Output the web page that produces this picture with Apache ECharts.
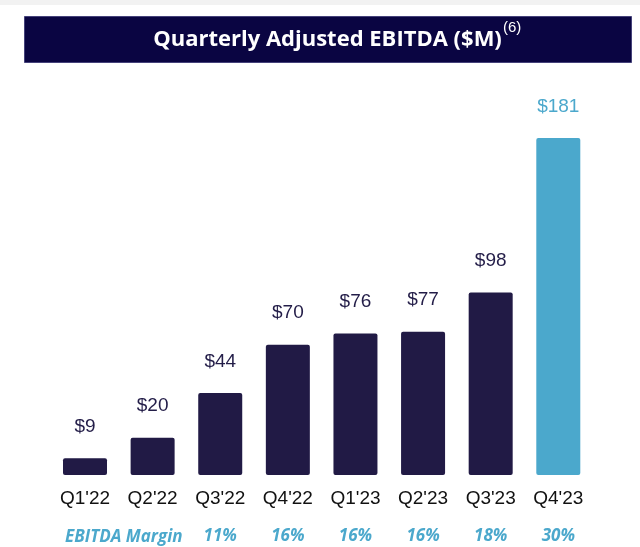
<!DOCTYPE html>
<html>
<head>
<meta charset="utf-8">
<script src="https://cdn.jsdelivr.net/npm/echarts@6/dist/echarts.min.js"></script>
<style>
html,body{margin:0;padding:0;background:#fff;}
#chart{width:640px;height:547px;}
</style>
</head>
<body>
<div id="chart"></div>
<script>
const categories = ["Q1'22","Q2'22","Q3'22","Q4'22","Q1'23","Q2'23","Q3'23","Q4'23"];
const ebitda = [9, 20, 44, 70, 76, 77, 98, 181];
const marginQuarters = ["Q3'22","Q4'22","Q1'23","Q2'23","Q3'23","Q4'23"];
const margins = ["11%","16%","16%","16%","18%","30%"];
const marginTitle = "EBITDA Margin";
const chartTitle = "Quarterly Adjusted EBITDA ($M)";
const titleNote = "(6)";

const DARK = '#211a45';
const LIGHT = '#4ba8cc';

const marginAxisData = categories.map(c => {
  const i = marginQuarters.indexOf(c);
  return i >= 0 ? margins[i] : '';
});

const chart = echarts.init(document.getElementById('chart'), null, {renderer:'canvas'});
chart.setOption({
  animation: false,
  grid: { left: 51.2, right: 47.9, top: 102.6, bottom: 72 },
  graphic: [
    { type:'rect', left:0, top:0, shape:{width:640, height:5}, style:{fill:'#f2f2f2'}, silent:true },
    { type:'rect', left:24, top:16, shape:{width:607, height:46}, style:{fill:'#0a0542', stroke:'#45427a', lineWidth:1}, silent:true },
    { type:'text', x:327.5, y:40, style:{ text: chartTitle, fill:'#ffffff', font:'bold 22px "Open Sans", sans-serif', align:'center', verticalAlign:'middle' } },
    { type:'text', x:503, y:28, style:{ text: titleNote, fill:'#ffffff', font:'15px "Liberation Sans", Arial, sans-serif', align:'left', verticalAlign:'middle' } },
    { type:'text', x:65, y:537, style:{ text: marginTitle, fill:LIGHT, font:'italic bold 17px "Open Sans", sans-serif', align:'left', verticalAlign:'middle' } }
  ],
  xAxis: [
    {
      type:'category', data: categories, boundaryGap:true,
      axisLine:{show:false}, axisTick:{show:false},
      axisLabel:{ color:'#111111', fontSize:19, fontFamily:'"Liberation Sans", Arial, sans-serif', margin:14, interval:0 }
    },
    {
      type:'category', data: marginAxisData, boundaryGap:true, position:'bottom',
      axisLine:{show:false}, axisTick:{show:false},
      axisLabel:{ color:LIGHT, fontSize:17, fontStyle:'italic', fontWeight:'bold', fontFamily:'"Open Sans", sans-serif', margin:53, interval:0 }
    }
  ],
  yAxis: { type:'value', min:0, max:200, show:false, splitLine:{show:false} },
  series: [{
    type:'bar',
    data: ebitda.map((v, i) => ({
      value: v,
      itemStyle: { color: i === ebitda.length - 1 ? LIGHT : DARK },
      label: { color: i === ebitda.length - 1 ? LIGHT : '#231d48' }
    })),
    barWidth: 44,
    itemStyle: { borderRadius: 2 },
    label: {
      show:true, position:'top', distance:22,
      fontSize:19, fontFamily:'"Liberation Sans", Arial, sans-serif',
      formatter: p => '$' + p.value
    }
  }]
});
</script>
</body>
</html>
